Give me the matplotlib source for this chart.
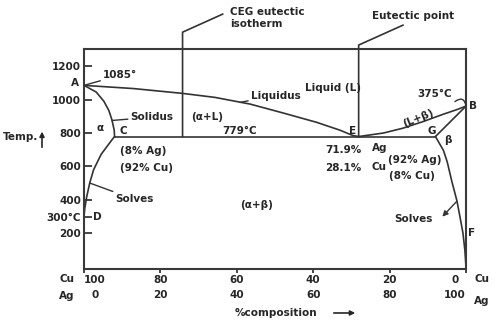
import matplotlib
matplotlib.use("Agg")
import matplotlib.pyplot as plt

# Cu-Ag phase diagram; composition in wt% Ag (Cu = 100 - Ag), temperature in deg C
liquidus_cu_ag = [0, 12.9, 25.8, 34.3, 43.5, 52.1, 60.9, 67.0, 70.4, 71.9]
liquidus_cu_t = [1085, 1066, 1037, 1013, 973, 920, 864, 817, 785, 779]

liquidus_ag_ag = [71.9, 78.4, 83.5, 88.7, 94.0, 97.6, 100]
liquidus_ag_t = [779, 800, 829, 868, 912, 940, 961]

solidus_cu_ag = [0, 3.2, 5.2, 6.5, 7.3, 7.9, 8]
solidus_cu_t = [1085, 1045, 990, 935, 880, 818, 779]

solidus_ag_ag = [100, 92]
solidus_ag_t = [961, 779]

solvus_cu_ag = [8, 7.5, 4.5, 2.5, 1.5, 0.7, 0.2, 0]
solvus_cu_t = [779, 765, 673, 580, 501, 418, 349, 300]

solvus_ag_ag = [92, 94.1, 95.1, 96.3, 97.6, 98.4, 99.2, 99.7, 100]
solvus_ag_t = [779, 696, 626, 510, 397, 302, 202, 100, 0]

eutectic_t = 779
eutectic_ag = 71.9
point_c_ag = 8
point_g_ag = 92

comp_ticks = [0, 20, 40, 60, 80, 100]
cu_labels = ["100", "80", "60", "40", "20", "0"]
ag_labels = ["0", "20", "40", "60", "80", "100"]

temp_ticks = [200, 300, 400, 600, 800, 1000, 1200]
temp_labels = ["200", "300°C", "400", "600", "800", "1000", "1200"]

plt.rcParams['font.family'] = 'DejaVu Sans'
plt.rcParams['font.weight'] = 'bold'
plt.rcParams['font.size'] = 7.5

ink = '#262626'
line_col = '#333333'

fig = plt.figure(figsize=(5, 3.22), dpi=100)
ax = fig.add_axes([0.168, 0.1646, 0.764, 0.683])

lw = 1.2
ax.plot(liquidus_cu_ag, liquidus_cu_t, color=line_col, lw=lw)
ax.plot(liquidus_ag_ag, liquidus_ag_t, color=line_col, lw=lw)
ax.plot(solidus_cu_ag, solidus_cu_t, color=line_col, lw=lw)
ax.plot(solidus_ag_ag, solidus_ag_t, color=line_col, lw=lw)
ax.plot(solvus_cu_ag, solvus_cu_t, color=line_col, lw=lw)
ax.plot(solvus_ag_ag, solvus_ag_t, color=line_col, lw=lw)
# eutectic isotherm C-E-G
ax.plot([point_c_ag, point_g_ag], [eutectic_t, eutectic_t], color=line_col, lw=lw)

# leader lines going out above the frame
ax.plot([25.8, 25.8, 36.3], [eutectic_t, 1403, 1511], color=line_col, lw=lw, clip_on=False)
ax.plot([eutectic_ag, eutectic_ag, 83.5], [eutectic_t, 1326, 1445], color=line_col, lw=lw, clip_on=False)
ax.text(38.2, 1487, "CEG eutectic\nisotherm", ha='left', va='center', color=ink, linespacing=1.2)
ax.text(75.3, 1499, "Eutectic point", ha='left', va='center', color=ink)

ax.set_xlim(0, 100)
ax.set_ylim(-13, 1302)

for s in ax.spines.values():
    s.set_color('#3a3a3a')
    s.set_linewidth(1.5)

ax.set_yticks(temp_ticks)
ax.set_yticklabels(temp_labels)
ax.tick_params(axis='y', direction='in', length=5.5, width=1.2, pad=2, colors=ink)
ax.set_xticks(comp_ticks)
ax.set_xticklabels([c + "\n" + a for c, a in zip(cu_labels, ag_labels)], linespacing=1.65)
ax.tick_params(axis='x', direction='out', length=3, width=1.2, pad=1.5, colors=ink)
xl = ax.get_xticklabels()
xl[0].set_ha('left')
xl[0].set_multialignment('center')
xl[-1].set_ha('right')
xl[-1].set_multialignment('center')

lead = dict(arrowstyle='-', color=line_col, lw=1.0, shrinkA=0, shrinkB=0)

# point labels
ax.text(-2.4, 1098, "A", ha='center', va='center', color=ink, clip_on=False)
ax.annotate("1085°", xy=(0, 1085), xytext=(5.0, 1146), ha='left', va='center',
            color=ink, arrowprops=lead)
ax.text(101.8, 961, "B", ha='center', va='center', color=ink)
ax.text(10.4, 815, "C", ha='center', va='center', color=ink)
ax.text(3.4, 300, "D", ha='center', va='center', color=ink)
ax.text(70.4, 815, "E", ha='center', va='center', color=ink)
ax.text(101.5, 204, "F", ha='center', va='center', color=ink)
ax.text(91.0, 815, "G", ha='center', va='center', color=ink)
ax.text(40.6, 815, "779°C", ha='center', va='center', color=ink)

# phase regions
ax.text(4.2, 830, "α", ha='center', va='center', color=ink)
ax.text(32.2, 895, "(α+L)", ha='center', va='center', color=ink)
ax.text(45.3, 369, "(α+β)", ha='center', va='center', color=ink)
ax.text(57.9, 1070, "Liquid (L)", ha='left', va='center', color=ink)
ax.text(87.4, 890, "(L+β)", ha='center', va='center', color=ink, rotation=22)
ax.text(95.3, 758, "β", ha='center', va='center', color=ink)

# curve names
ax.annotate("Solidus", xy=(7.3, 875), xytext=(12.2, 895), ha='left', va='center',
            color=ink, arrowprops=lead)
ax.annotate("Liquidus", xy=(40.8, 983), xytext=(43.7, 1024), ha='left', va='center',
            color=ink, arrowprops=lead)
ax.annotate("Solves", xy=(1.5, 501), xytext=(8.1, 404), ha='left', va='center',
            color=ink, arrowprops=lead)
ax.text(81.2, 284, "Solves", ha='left', va='center', color=ink)
ax.annotate("", xy=(93.8, 300), xytext=(97.6, 392),
            arrowprops=dict(arrowstyle='-|>', color=line_col, lw=1.0,
                            mutation_scale=8, shrinkA=0, shrinkB=0))
ax.text(91.9, 1035, "375°C", ha='center', va='center', color=ink)
ax.annotate("", xy=(100, 961), xytext=(97.1, 988),
            arrowprops=dict(arrowstyle='-', color=line_col, lw=1.0, shrinkA=0, shrinkB=0,
                            connectionstyle='arc3,rad=-0.8'))

# compositions at C, E and G
ax.text(9.4, 691, "(8% Ag)", ha='left', va='center', color=ink)
ax.text(9.4, 592, "(92% Cu)", ha='left', va='center', color=ink)
ax.text(72.6, 696, "71.9%", ha='right', va='center', color=ink)
ax.text(72.6, 592, "28.1%", ha='right', va='center', color=ink)
ax.text(75.3, 710, "Ag", ha='left', va='center', color=ink)
ax.text(75.3, 599, "Cu", ha='left', va='center', color=ink)
ax.text(79.6, 640, "(92% Ag)", ha='left', va='center', color=ink)
ax.text(79.8, 545, "(8% Cu)", ha='left', va='center', color=ink)

# axis captions
fig.text(0.006, 0.5745, "Temp.", ha='left', va='center', color=ink)
fig.patches.append(matplotlib.patches.FancyArrowPatch(
    (0.084, 0.534), (0.084, 0.600), transform=fig.transFigure, arrowstyle='-|>',
    mutation_scale=7, color=ink, lw=1.2))
fig.text(0.134, 0.1335, "Cu", ha='center', va='center', color=ink)
fig.text(0.134, 0.0807, "Ag", ha='center', va='center', color=ink)
fig.text(0.964, 0.1335, "Cu", ha='center', va='center', color=ink)
fig.text(0.964, 0.0652, "Ag", ha='center', va='center', color=ink)
fig.text(0.47, 0.028, "%composition", ha='left', va='center', color=ink)
fig.patches.append(matplotlib.patches.FancyArrowPatch(
    (0.662, 0.028), (0.716, 0.028), transform=fig.transFigure, arrowstyle='-|>',
    mutation_scale=7, color=ink, lw=1.2))

fig.savefig("out.png", dpi=100, facecolor='white')
